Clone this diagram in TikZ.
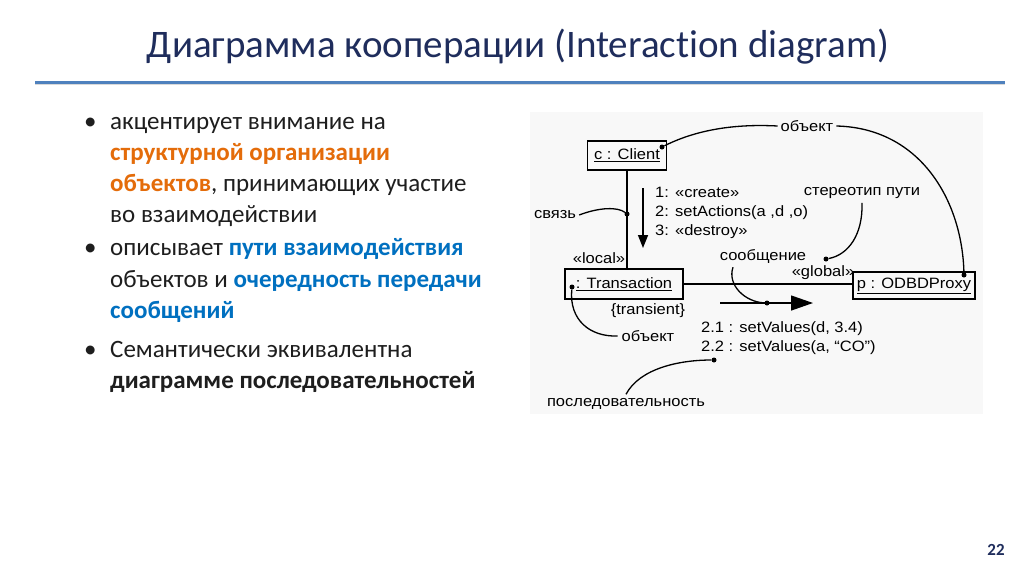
\documentclass[tikz,border=0pt]{standalone}
\usepackage{fontspec}
\setmainfont{Carlito}[Ligatures={NoCommon}]
\newfontfamily\dfont{Liberation Sans}[FakeStretch=1.1]
\usetikzlibrary{arrows.meta}
\definecolor{navy}{HTML}{1F2D5C}
\definecolor{lineblue}{HTML}{4F81BD}
\definecolor{textc}{HTML}{1E1E1E}
\definecolor{orng}{HTML}{E46C0A}
\definecolor{blu}{HTML}{0070C0}
\definecolor{diagbg}{HTML}{F8F8F8}
\begin{document}
\begin{tikzpicture}[x=1pt,y=-1pt,
  obj/.style={draw, line width=1.6pt, inner sep=3pt, font=\dfont\fontsize{15}{17}\selectfont},
  lbl/.style={font=\dfont\fontsize{15}{19}\selectfont, inner sep=0pt},
  dotc/.style={circle, fill, inner sep=0pt, minimum size=5pt},
  bl/.style={font=\fontsize{25}{30}\selectfont, anchor=base west, inner sep=0pt, text=textc},
  ann/.style={line width=1.3pt},
  ]
\useasboundingbox (0,0) rectangle (1024,574);
\fill[white] (0,0) rectangle (1024,574);

% title
\node[font=\fontsize{39}{44}\selectfont, text=navy, anchor=base, inner sep=0pt] (title) at (518,57) {Диаграмма кооперации (Interaction diagram)};
\draw[line width=1.2pt, black!15] (35,84.5) -- (1005,84.5);
\draw[line width=3pt, lineblue] (35,82) -- (1005,82);

% bullets
\node[bl] (b1) at (84,129) {•};
\node[bl] (b2) at (84,255) {•};
\node[bl] (b3) at (84,357) {•};
\node[bl] (t1) at (110,129) {акцентирует внимание на};
\node[bl] (t2) at (110,160) {\bfseries\color{orng}структурной организации};
\node[bl] (t3) at (110,191) {{\bfseries\color{orng}объектов}, принимающих участие};
\node[bl] (t4) at (110,222) {во взаимодействии};
\node[bl] (t5) at (110,255) {описывает {\bfseries\color{blu}пути взаимодействия}};
\node[bl] (t6) at (110,287) {объектов и {\bfseries\color{blu}очередность передачи}};
\node[bl] (t7) at (110,318) {\bfseries\color{blu}сообщений};
\node[bl] (t8) at (110,357) {Семантически эквивалентна};
\node[bl] (t9) at (110,388) {\bfseries диаграмме последовательностей};

% page number
\node[font=\bfseries\fontsize{17}{20}\selectfont, text=navy] (pg) at (996,550) {22};

% diagram background
\fill[diagbg] (530,112) rectangle (983,414);

% objects
\node[obj, minimum width=79pt, minimum height=29pt] (client) at (627,155.5) {\underline{c : Client}};
\node[obj, minimum width=118pt, minimum height=30pt] (trans) at (624,284) {\underline{: Transaction}};
\node[obj, minimum width=122pt, minimum height=27pt] (proxy) at (914,285.5) {\underline{p : ODBDProxy}};

% links
\draw[line width=1.3pt] (client.south) -- (client.south |- trans.north);
\draw[line width=1.3pt] (trans.east) -- (proxy.west |- trans.east);

% link labels
\node[lbl] (local) at (599,258) {«local»};
\node[lbl] (global) at (823,273) {«global»};
\node[lbl] (trs) at (648,311) {\{transient\}};

% messages
\coordinate (m1s) at (643,188);
\coordinate (m1e) at (643,248);
\draw[line width=1.5pt, -{Triangle[length=13pt,width=10pt]}] (m1s) -- (m1e);
\node[lbl, anchor=north west, align=left] (msg1) at (655,187) {1: «create»\\2: setActions(a ,d ,o)\\3: «destroy»};

\coordinate (m2s) at (720,303);
\coordinate (m2e) at (813,303);
\draw[line width=1.3pt, -{Triangle[length=22pt,width=15pt]}] (m2s) -- (m2e);
\node[lbl, anchor=north west, align=left] (msg2) at (701,321) {2.1 : setValues(d, 3.4)\\2.2 : setValues(a, “CO”)};

% annotation labels
\node[lbl] (obj1) at (807,126) {объект};
\node[lbl] (ster) at (862,193) {стереотип пути};
\node[lbl] (soob) at (763,256) {сообщение};
\node[lbl] (svyaz) at (555,215) {связь};
\node[lbl] (obj2) at (648,336) {объект};
\node[lbl] (posl) at (626,404) {последовательность};

% dots
\node[dotc] (dcl) at (662,147) {};
\node[dotc] (dpx) at (964,275) {};
\node[dotc] (dst) at (826,259) {};
\node[dotc] (dso) at (767,303) {};
\node[dotc] (dsv) at (627,214) {};
\node[dotc] (dtr) at (572,287) {};
\node[dotc] (dps) at (714,360) {};

% annotation curves
\draw[ann] (dcl) .. controls (700,128) and (740,124) .. ([xshift=-3pt]obj1.west);
\draw[ann] ([xshift=3pt]obj1.east) .. controls (920,128) and (962,200) .. (dpx);
\draw[ann] ([yshift=-4pt]ster.south) .. controls (863,235) and (848,255) .. (dst);
\draw[ann] ([xshift=-30pt,yshift=-4pt]soob.south) .. controls (727,285) and (745,302) .. (dso);
\draw[ann] ([xshift=3pt]svyaz.east) .. controls (600,207) and (618,207) .. (dsv);
\draw[ann] (dtr) .. controls (569,320) and (590,337) .. ([xshift=-4pt]obj2.west);
\draw[ann] ([yshift=4pt]posl.north) .. controls (640,368) and (680,360) .. (dps);
\end{tikzpicture}
\end{document}
